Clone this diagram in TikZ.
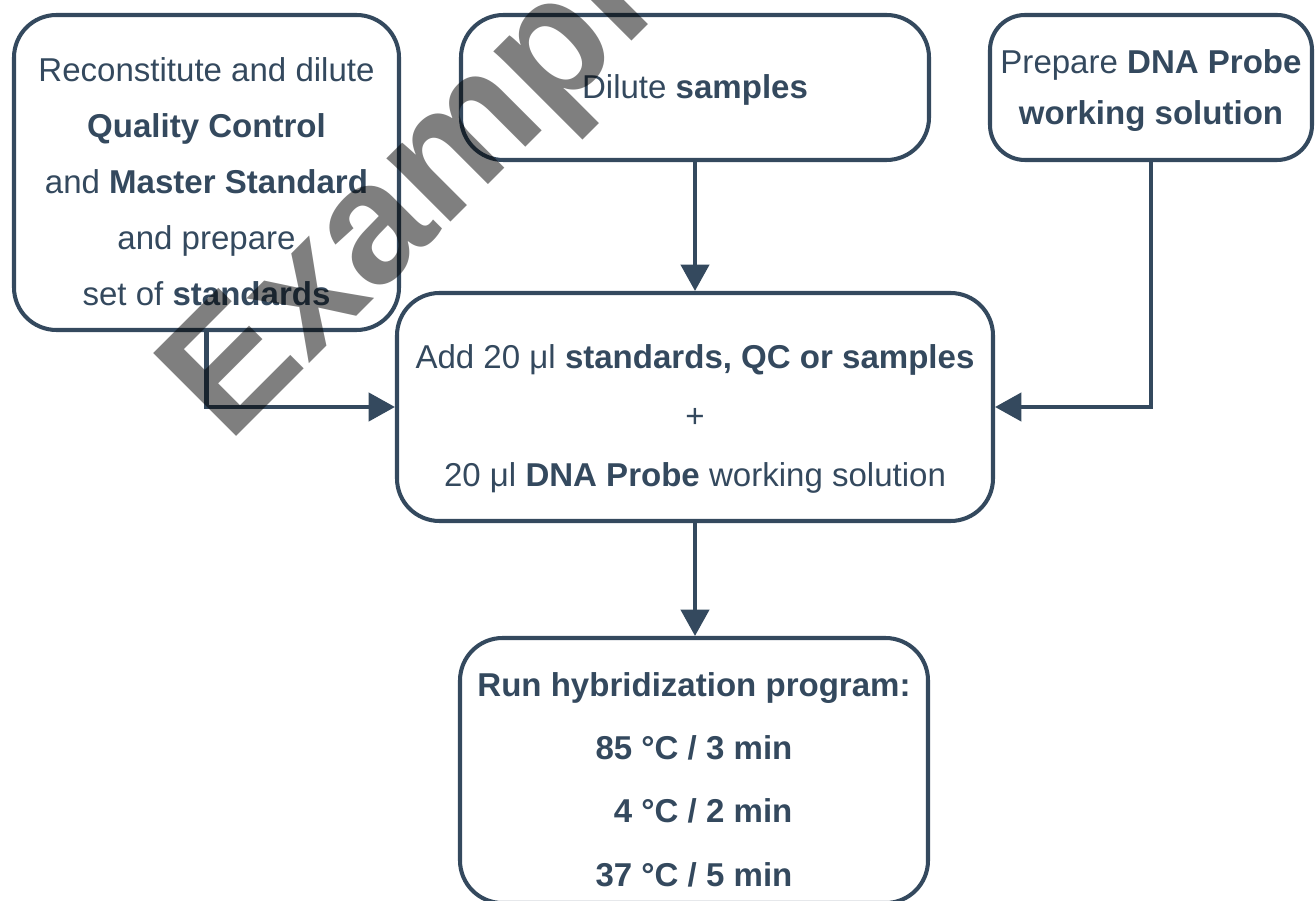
\documentclass[tikz,border=0pt]{standalone}
\usepackage{fontspec}
\setmainfont{Liberation Sans}
\usetikzlibrary{arrows.meta,positioning}
\definecolor{slate}{HTML}{34495E}
% invisible strut that pushes a box's text down a little
\newcommand\topgap[1]{\rule{0pt}{#1}}

\begin{document}
\begin{tikzpicture}[
  box/.style={draw=slate, line width=2.3pt, rounded corners=0.85cm,
    align=center, text=slate, inner sep=0pt},
  arrow/.style={color=slate, line width=2.3pt,
    -{Triangle[length=15pt,width=16pt]}},
  elbow/.style={to path={|- (\tikztotarget)}},
  ]
  \useasboundingbox (0,0) rectangle (26.32,-18.02);
  \node[box, minimum width=7.7cm, minimum height=6.3cm,
    font=\fontsize{18.8}{31.9}\selectfont] (qc) at (4.13,-3.45)
    {\topgap{24pt}Reconstitute and dilute\\ \textbf{Quality Control}\\
     and \textbf{Master Standard}\\ and prepare\\ set of \textbf{standards}};
  \node[box, minimum width=9.36cm, minimum height=2.9cm,
    font=\fontsize{18.8}{29}\selectfont] (dil) at (13.9,-1.75)
    {\topgap{16pt}Dilute \textbf{samples}};
  \node[box, rounded corners=0.7cm, minimum width=6.44cm, minimum height=2.9cm,
    font=\fontsize{18.8}{29}\selectfont] (probe) at (23.02,-1.75)
    {\topgap{17pt}Prepare \textbf{DNA Probe}\\ \textbf{working solution}};
  \node[box, minimum width=11.92cm, minimum height=4.56cm,
    font=\fontsize{18.8}{33.5}\selectfont] (mix) at (13.9,-8.14)
    {\topgap{27pt}Add 20 μl \textbf{standards, QC or samples}\\ +\\
     20 μl \textbf{DNA Probe} working solution};
  \node[box, minimum width=9.36cm, minimum height=5.3cm,
    font=\fontsize{18.8}{36}\selectfont\bfseries] (run) at (13.88,-15.41)
    {\topgap{24pt}Run hybridization program:\\ 85 °C / 3 min\\
     \hphantom{8}4 °C / 2 min\\ 37 °C / 5 min};
  \path[arrow]
  (dil) edge (dil.south |- mix.north)
  (mix) edge (mix.south |- run.north)
  (qc.south) edge [elbow] (mix.west)
  (probe.south) edge [elbow] (mix.east)
  ;
  \node[rotate=45, anchor=base west, inner sep=0pt, text=black,
    text opacity=0.5, font=\fontsize{97}{97}\selectfont\bfseries]
    (mark) at (4.56,-8.9) {Example};
\end{tikzpicture}
\end{document}
